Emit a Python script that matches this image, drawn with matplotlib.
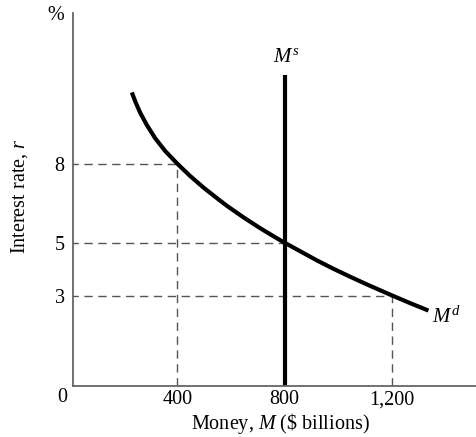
import matplotlib
matplotlib.use('Agg')
import matplotlib.pyplot as plt

plt.rcParams['font.family'] = 'Liberation Serif'
plt.rcParams['mathtext.fontset'] = 'custom'
plt.rcParams['mathtext.rm'] = 'Liberation Serif'
plt.rcParams['mathtext.it'] = 'Liberation Serif:italic'

# money demand curve
money = [231, 244, 262, 287, 318, 355, 400, 448, 498, 554, 585, 647, 709,
         771, 800, 920, 982, 1044, 1106, 1200, 1267, 1335]
rate = [10.7, 10.35, 9.93, 9.46, 8.96, 8.48, 8.0, 7.53, 7.09, 6.64, 6.40,
        5.96, 5.55, 5.17, 5.0, 4.33, 4.01, 3.71, 3.42, 3.0, 2.71, 2.43]

supply_m = 800
supply_top = 11.36

guide_m = [400, 800, 1200]
guide_r = [8, 5, 3]

xticks = [400, 800, 1200]
xticklabels = ['400', '800', '1,200']
yticks = [3, 5, 8]

fig = plt.figure(figsize=(4.76, 4.37), dpi=100)
ax = fig.add_axes([73/476, 51/437, 403/476, 373/437])
ax.set_xlim(12, 1512)
ax.set_ylim(-0.43, 13.71)

dash = dict(color='#555555', lw=1.0, ls=(0, (6, 4)))
for m, r in zip(guide_m, guide_r):
    ax.plot([0, m], [r, r], **dash)
    if m != supply_m:
        ax.plot([m, m], [-0.43, r], **dash)

ax.plot([supply_m, supply_m], [-0.43, supply_top], color='black', lw=3.0,
        solid_capstyle='butt')
ax.plot(money, rate, color='black', lw=3.0, solid_capstyle='butt',
        solid_joinstyle='round')

ax.text(supply_m + 5, supply_top + 0.3, r'$M^s$', fontsize=15, ha='center', va='bottom')
ax.text(money[-1] + 12, rate[-1] - 0.25, r'$M^d$', fontsize=15, ha='left', va='center')

for side in ['top', 'right']:
    ax.spines[side].set_visible(False)
for side in ['left', 'bottom']:
    ax.spines[side].set_color('#666666')
    ax.spines[side].set_linewidth(1.3)

ax.set_xticks(xticks)
ax.set_xticklabels(xticklabels)
ax.set_yticks(yticks)
ax.tick_params(length=0, labelsize=14.5)
ax.tick_params(axis='x', pad=3)
ax.tick_params(axis='y', pad=6)

fig.text(62/476, 1 - 398/437, '0', fontsize=14.5, ha='center', va='center')
fig.text(56/476, 1 - 16/437, '%', fontsize=14.5, ha='center', va='center')
fig.text(280/476, 1 - 423/437, r'Money, $M$ (\$ billions)', fontsize=14.5,
         ha='center', va='center')
fig.text(20/476, 1 - 196/437, r'Interest rate, $r$', fontsize=14.5,
         ha='center', va='center', rotation=90)

fig.savefig('out.png', dpi=100)
